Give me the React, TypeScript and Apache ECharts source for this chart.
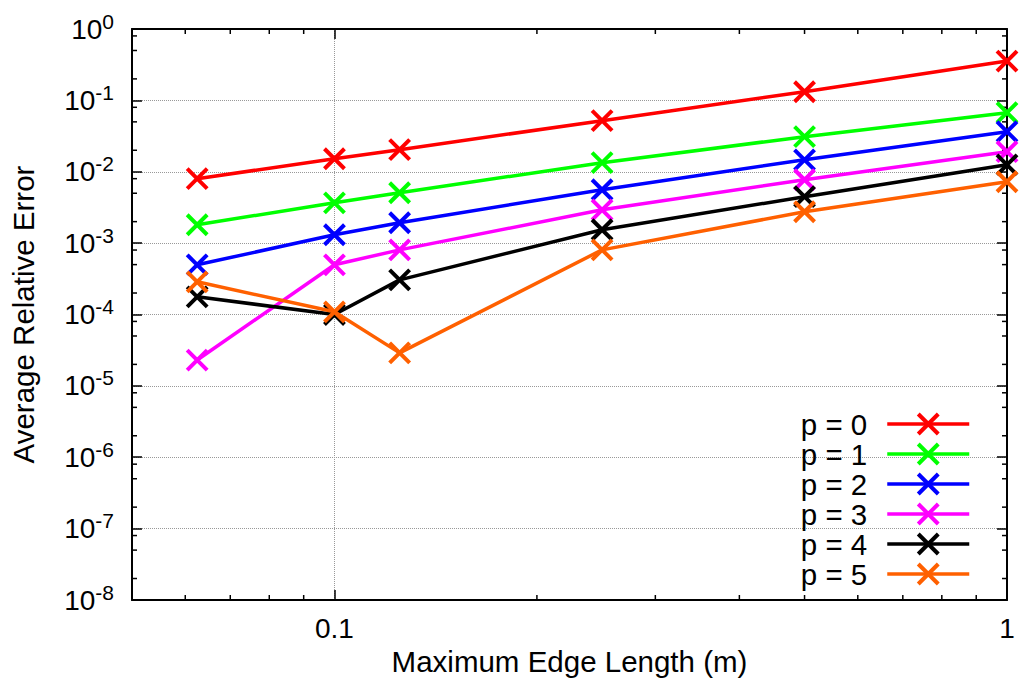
import React, { useEffect, useRef } from 'react';
import * as echarts from 'echarts';

const edgeLengths = [0.0625, 0.1, 0.125, 0.25, 0.5, 1];
const seriesNames = ['p = 0', 'p = 1', 'p = 2', 'p = 3', 'p = 4', 'p = 5'];
const p0 = [0.008, 0.0152, 0.0204, 0.052, 0.132, 0.355];
const p1 = [0.00181, 0.00367, 0.00508, 0.0134, 0.031, 0.0672];
const p2 = [0.000497, 0.00131, 0.00193, 0.0056, 0.0147, 0.0364];
const p3 = [2.3e-5, 4.97e-4, 8.05e-4, 0.00293, 0.00773, 0.0191];
const p4 = [1.77e-4, 1.0e-4, 3.06e-4, 0.00154, 0.00447, 0.0125];
const p5 = [2.87e-4, 1.09e-4, 2.9e-5, 8.05e-4, 0.00275, 0.00724];
const allValues = [p0, p1, p2, p3, p4, p5];
const colors = ['#ff0000', '#00ff00', '#0000ff', '#ff00ff', '#000000', '#ff6000'];

const xMinorTicks = [0.06, 0.07, 0.08, 0.09, 0.2, 0.3, 0.4, 0.5, 0.6, 0.7, 0.8, 0.9];
const yMinorTicks = [
  8e-1, 5e-1, 2e-1, 8e-2, 5e-2, 2e-2, 8e-3, 5e-3, 2e-3, 8e-4, 5e-4, 2e-4,
  8e-5, 5e-5, 2e-5, 8e-6, 5e-6, 2e-6, 8e-7, 5e-7, 2e-7, 8e-8, 5e-8, 2e-8,
];
const xLabels: Record<string, string> = { '0.1': '0.1', '1': '1' };

const X_MIN = 0.05;
const X_MAX = 1;
const Y_MIN = 1e-8;
const Y_MAX = 1;

const FONT = "'Liberation Sans', Arial, Helvetica, sans-serif";
const XSYM = 'path://M0,0L10,10M10,0L0,10';

export default function App() {
  const ref = useRef<HTMLDivElement>(null);
  useEffect(() => {
    const chart = echarts.init(ref.current!, null, { renderer: 'svg' });
    const axisLine = { show: true, onZero: false, lineStyle: { color: '#000', width: 2 } };
    const majorTick = { show: true, inside: true, length: 10, lineStyle: { color: '#000', width: 1.5 } };
    const gridLine = { show: true, lineStyle: { type: 'dotted', color: '#999', width: 1 } };

    const lineSeries = allValues.map((vals, i) => ({
      name: seriesNames[i],
      type: 'line',
      data: edgeLengths.map((x, j) => [x, vals[j]]),
      symbol: XSYM,
      symbolSize: 20,
      showAllSymbol: true,
      lineStyle: { color: colors[i], width: 3.5 },
      itemStyle: { color: colors[i], borderColor: colors[i], borderWidth: 4 },
      z: 3 + i,
      silent: true,
    }));

    const tickStyle = { stroke: '#000', lineWidth: 1.5 };

    chart.setOption({
      animation: false,
      textStyle: { fontFamily: FONT },
      grid: { left: 131, right: 13, top: 29, bottom: 98 },
      xAxis: [
        {
          type: 'log', logBase: 10, min: X_MIN, max: X_MAX, position: 'bottom',
          name: 'Maximum Edge Length (m)', nameLocation: 'middle', nameGap: 40,
          nameTextStyle: { fontSize: 29.5, color: '#000', fontFamily: FONT },
          axisLine, axisTick: majorTick, splitLine: gridLine, minorTick: { show: false },
          axisLabel: {
            fontSize: 28, color: '#000', fontFamily: FONT, margin: 14,
            showMinLabel: true, showMaxLabel: true, hideOverlap: false,
            formatter: (v: number) => {
              const k = String(Math.round(v * 1000) / 1000);
              return xLabels[k] || '';
            },
          },
        },
        {
          type: 'log', logBase: 10, min: X_MIN, max: X_MAX, position: 'top',
          axisLine, axisTick: majorTick, splitLine: { show: false }, axisLabel: { show: false },
        },
      ],
      yAxis: [
        {
          type: 'log', logBase: 10, min: Y_MIN, max: Y_MAX, splitNumber: 8, position: 'left',
          name: 'Average Relative Error', nameLocation: 'middle', nameGap: 94,
          nameTextStyle: { fontSize: 29.5, color: '#000', fontFamily: FONT },
          axisLine, axisTick: majorTick, splitLine: gridLine, minorTick: { show: false },
          axisLabel: {
            margin: 18, hideOverlap: false,
            formatter: (v: number) => `{b|10}{s|${Math.round(Math.log10(v))}}`,
            rich: {
              b: { fontSize: 28, color: '#000', fontFamily: FONT },
              s: { fontSize: 21, color: '#000', fontFamily: FONT, padding: [0, 0, 16, 0] },
            },
          },
        },
        {
          type: 'log', logBase: 10, min: Y_MIN, max: Y_MAX, splitNumber: 8, position: 'right',
          axisLine, axisTick: majorTick, splitLine: { show: false }, axisLabel: { show: false },
        },
      ],
      legend: {
        data: seriesNames,
        orient: 'vertical',
        right: 49,
        top: 409,
        padding: 0,
        align: 'right',
        itemWidth: 82,
        itemHeight: 25,
        itemGap: 0,
        lineStyle: { width: 3.5 },
        itemStyle: { borderWidth: 4 },
        textStyle: { fontSize: 29.5, color: '#000', fontFamily: FONT, lineHeight: 25, padding: [0, 15, 0, 0] },
        selectedMode: false,
      },
      series: [
        {
          type: 'custom', name: 'xminor', silent: true, clip: false, z: 1,
          data: xMinorTicks.map((v) => [v, Y_MIN]),
          renderItem: (_p: any, api: any) => {
            const v = api.value(0);
            const b = api.coord([v, Y_MIN]);
            const t = api.coord([v, Y_MAX]);
            return {
              type: 'group',
              children: [
                { type: 'line', shape: { x1: b[0], y1: b[1], x2: b[0], y2: b[1] - 5 }, style: tickStyle },
                { type: 'line', shape: { x1: t[0], y1: t[1], x2: t[0], y2: t[1] + 5 }, style: tickStyle },
              ],
            };
          },
        },
        {
          type: 'custom', name: 'yminor', silent: true, clip: false, z: 1,
          data: yMinorTicks.map((v) => [X_MIN, v]),
          renderItem: (_p: any, api: any) => {
            const v = api.value(1);
            const l = api.coord([X_MIN, v]);
            const r = api.coord([X_MAX, v]);
            return {
              type: 'group',
              children: [
                { type: 'line', shape: { x1: l[0], y1: l[1], x2: l[0] + 5, y2: l[1] }, style: tickStyle },
                { type: 'line', shape: { x1: r[0], y1: r[1], x2: r[0] - 5, y2: r[1] }, style: tickStyle },
              ],
            };
          },
        },
        ...lineSeries,
      ],
    });
    return () => chart.dispose();
  }, []);
  return (
    <div
      ref={ref}
      style={{ position: 'fixed', left: 0, top: 0, width: 1020, height: 698, background: '#fff' }}
    />
  );
}
